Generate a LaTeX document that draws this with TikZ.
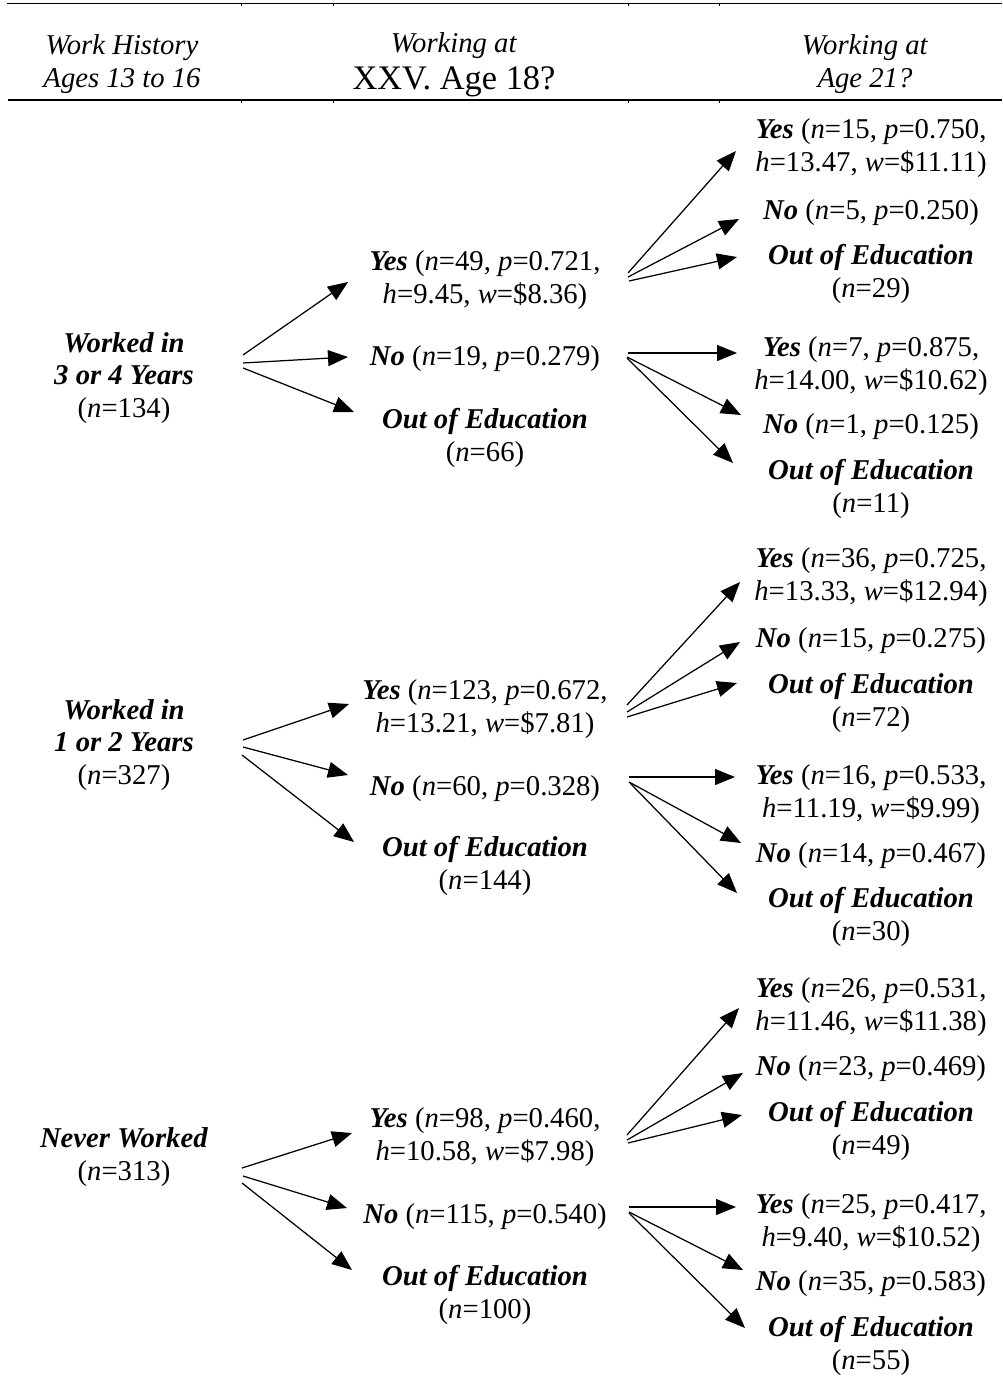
\documentclass[tikz,border=0pt]{standalone}
\usepackage{fontspec}
\setmainfont{Liberation Serif}
\usetikzlibrary{arrows.meta}
\newcommand\bi[1]{\textbf{\textit{#1}}}
\newcommand\vi[1]{\textit{#1}}
\begin{document}
\begin{tikzpicture}[x=1pt,y=-1pt,
  lbl/.style={align=center, inner sep=0pt, font=\fontsize{28.7}{32.5}\selectfont},
  arr/.style={-{Triangle[length=20pt,width=16pt]}, line width=1.25pt},
  rulel/.style={line width=1.4pt},
  tick/.style={line width=1pt}]
\useasboundingbox (0,0) rectangle (1002,1380);
% header rules
\draw[rulel] (7,3.5) -- (1002,3.5);
\draw[rulel] (8,100) -- (1002,100);
\foreach \x in {241,333,628,719}{
  \draw[tick] (\x,3.5) -- (\x,6.5);
  \draw[tick] (\x,100) -- (\x,103);
}
% header texts
\node[lbl] (hist) at (122,64) {\textit{Work History}\\\textit{Ages 13 to 16}};
\node[lbl] (h18) at (454,65) {\textit{Working at}\\[4pt]{\fontsize{34.4}{34}\selectfont XXV. Age 18?}};
\node[lbl] (h21) at (865,64) {\textit{Working at}\\\textit{Age 21?}};
% level 1
\node[lbl] (w34) at (124,378) {\bi{Worked in}\\\bi{3 or 4 Years}\\(\vi{n}=134)};
\node[lbl] (w12) at (124,745) {\bi{Worked in}\\\bi{1 or 2 Years}\\(\vi{n}=327)};
\node[lbl] (nw) at (124,1157) {\bi{Never Worked}\\(\vi{n}=313)};
% level 2
\node[lbl] (y1) at (485,280) {\bi{Yes} (\vi{n}=49, \vi{p}=0.721,\\\vi{h}=9.45, \vi{w}=\$8.36)};
\node[lbl] (n1) at (485,359) {\bi{No} (\vi{n}=19, \vi{p}=0.279)};
\node[lbl] (o1) at (485,438) {\bi{Out of Education}\\(\vi{n}=66)};
\node[lbl] (y2) at (485,709) {\bi{Yes} (\vi{n}=123, \vi{p}=0.672,\\\vi{h}=13.21, \vi{w}=\$7.81)};
\node[lbl] (n2) at (485,789) {\bi{No} (\vi{n}=60, \vi{p}=0.328)};
\node[lbl] (o2) at (485,866) {\bi{Out of Education}\\(\vi{n}=144)};
\node[lbl] (y3) at (485,1137) {\bi{Yes} (\vi{n}=98, \vi{p}=0.460,\\\vi{h}=10.58, \vi{w}=\$7.98)};
\node[lbl] (n3) at (485,1217) {\bi{No} (\vi{n}=115, \vi{p}=0.540)};
\node[lbl] (o3) at (485,1295) {\bi{Out of Education}\\(\vi{n}=100)};
% level 3
\node[lbl] (y1y) at (871,148) {\bi{Yes} (\vi{n}=15, \vi{p}=0.750,\\\vi{h}=13.47, \vi{w}=\$11.11)};
\node[lbl] (y1n) at (871,213) {\bi{No} (\vi{n}=5, \vi{p}=0.250)};
\node[lbl] (y1o) at (871,274) {\bi{Out of Education}\\(\vi{n}=29)};
\node[lbl] (n1y) at (871,366) {\bi{Yes} (\vi{n}=7, \vi{p}=0.875,\\\vi{h}=14.00, \vi{w}=\$10.62)};
\node[lbl] (n1n) at (871,427) {\bi{No} (\vi{n}=1, \vi{p}=0.125)};
\node[lbl] (n1o) at (871,489) {\bi{Out of Education}\\(\vi{n}=11)};
\node[lbl] (y2y) at (871,577) {\bi{Yes} (\vi{n}=36, \vi{p}=0.725,\\\vi{h}=13.33, \vi{w}=\$12.94)};
\node[lbl] (y2n) at (871,641) {\bi{No} (\vi{n}=15, \vi{p}=0.275)};
\node[lbl] (y2o) at (871,703) {\bi{Out of Education}\\(\vi{n}=72)};
\node[lbl] (n2y) at (871,794) {\bi{Yes} (\vi{n}=16, \vi{p}=0.533,\\\vi{h}=11.19, \vi{w}=\$9.99)};
\node[lbl] (n2n) at (871,856) {\bi{No} (\vi{n}=14, \vi{p}=0.467)};
\node[lbl] (n2o) at (871,917) {\bi{Out of Education}\\(\vi{n}=30)};
\node[lbl] (y3y) at (871,1007) {\bi{Yes} (\vi{n}=26, \vi{p}=0.531,\\\vi{h}=11.46, \vi{w}=\$11.38)};
\node[lbl] (y3n) at (871,1069) {\bi{No} (\vi{n}=23, \vi{p}=0.469)};
\node[lbl] (y3o) at (871,1131) {\bi{Out of Education}\\(\vi{n}=49)};
\node[lbl] (n3y) at (871,1223) {\bi{Yes} (\vi{n}=25, \vi{p}=0.417,\\\vi{h}=9.40, \vi{w}=\$10.52)};
\node[lbl] (n3n) at (871,1284) {\bi{No} (\vi{n}=35, \vi{p}=0.583)};
\node[lbl] (n3o) at (871,1346) {\bi{Out of Education}\\(\vi{n}=55)};
% connector end points
\coordinate (w34a) at (243,355); \coordinate (w34b) at (243,363); \coordinate (w34c) at (243,368);
\coordinate (y1in) at (348,282); \coordinate (n1in) at (348,357); \coordinate (o1in) at (354,412);
\coordinate (y1a) at (628,273); \coordinate (y1b) at (628,277); \coordinate (y1c) at (629,281);
\coordinate (y1yin) at (736,151); \coordinate (y1nin) at (739,219); \coordinate (y1oin) at (737,257);
\coordinate (n1a) at (628,353); \coordinate (n1b) at (627,357); \coordinate (n1c) at (627,358);
\coordinate (n1yin) at (737,353); \coordinate (n1nin) at (741,415); \coordinate (n1oin) at (733,463);
\coordinate (w12a) at (243,740); \coordinate (w12b) at (243,747); \coordinate (w12c) at (242,755);
\coordinate (y2in) at (349,704); \coordinate (n2in) at (348,775); \coordinate (o2in) at (354,842);
\coordinate (y2a) at (627,705); \coordinate (y2b) at (627,712); \coordinate (y2c) at (627,717);
\coordinate (y2yin) at (740,582); \coordinate (y2nin) at (740,642); \coordinate (y2oin) at (737,683);
\coordinate (n2a) at (629,777); \coordinate (n2b) at (629,782); \coordinate (n2c) at (630,783);
\coordinate (n2yin) at (735,777); \coordinate (n2nin) at (741,843); \coordinate (n2oin) at (737,893);
\coordinate (nwa) at (242,1168); \coordinate (nwb) at (243,1176); \coordinate (nwc) at (242,1183);
\coordinate (y3in) at (352,1133); \coordinate (n3in) at (347,1208); \coordinate (o3in) at (352,1270);
\coordinate (y3a) at (627,1135); \coordinate (y3b) at (627,1140); \coordinate (y3c) at (628,1143);
\coordinate (y3yin) at (739,1008); \coordinate (y3nin) at (743,1073); \coordinate (y3oin) at (742,1115);
\coordinate (n3a) at (629,1207); \coordinate (n3b) at (629,1212); \coordinate (n3c) at (629,1213);
\coordinate (n3yin) at (736,1207); \coordinate (n3nin) at (743,1270); \coordinate (n3oin) at (745,1328);
% connectors
\draw[arr] (w34a) -- (y1in); \draw[arr] (w34b) -- (n1in); \draw[arr] (w34c) -- (o1in);
\draw[arr] (y1a) -- (y1yin); \draw[arr] (y1b) -- (y1nin); \draw[arr] (y1c) -- (y1oin);
\draw[arr] (n1a) -- (n1yin); \draw[arr] (n1b) -- (n1nin); \draw[arr] (n1c) -- (n1oin);
\draw[arr] (w12a) -- (y2in); \draw[arr] (w12b) -- (n2in); \draw[arr] (w12c) -- (o2in);
\draw[arr] (y2a) -- (y2yin); \draw[arr] (y2b) -- (y2nin); \draw[arr] (y2c) -- (y2oin);
\draw[arr] (n2a) -- (n2yin); \draw[arr] (n2b) -- (n2nin); \draw[arr] (n2c) -- (n2oin);
\draw[arr] (nwa) -- (y3in); \draw[arr] (nwb) -- (n3in); \draw[arr] (nwc) -- (o3in);
\draw[arr] (y3a) -- (y3yin); \draw[arr] (y3b) -- (y3nin); \draw[arr] (y3c) -- (y3oin);
\draw[arr] (n3a) -- (n3yin); \draw[arr] (n3b) -- (n3nin); \draw[arr] (n3c) -- (n3oin);
\end{tikzpicture}
\end{document}
